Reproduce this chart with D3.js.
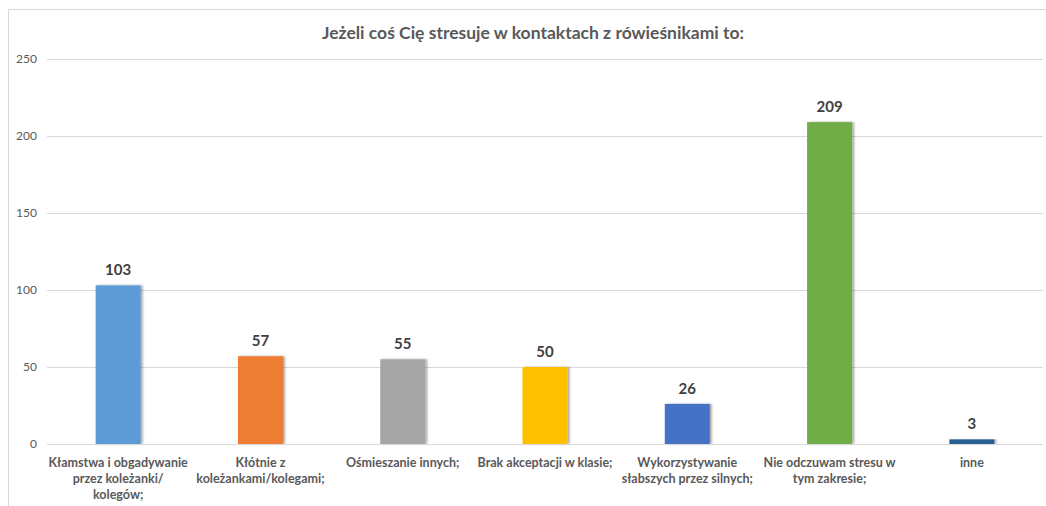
<!DOCTYPE html>
<html>
<head>
<meta charset="utf-8">
<script src="https://cdn.jsdelivr.net/npm/d3@7"></script>
<style>
  html, body { margin: 0; padding: 0; background: #fff; }
  svg { display: block; font-family: Lato, "Open Sans", sans-serif; }
</style>
</head>
<body>
<svg id="chart" width="1046" height="506"></svg>
<script>
// Answers to the survey question, one line of the label per "\n"
const categories = [
  "Kłamstwa i obgadywanie\nprzez koleżanki/\nkolegów;",
  "Kłótnie z\nkoleżankami/kolegami;",
  "Ośmieszanie innych;",
  "Brak akceptacji w klasie;",
  "Wykorzystywanie\nsłabszych przez silnych;",
  "Nie odczuwam stresu w\ntym zakresie;",
  "inne"
];
const values = [103, 57, 55, 50, 26, 209, 3];
const barColors = ["#5B9BD5", "#ED7D31", "#A5A5A5", "#FFC000", "#4472C4", "#70AD47", "#255E91"];
const yTicks = [0, 50, 100, 150, 200, 250];
const title = "Jeżeli coś Cię stresuje w kontaktach z rówieśnikami to:";

const svg = d3.select("#chart");
const W = 1046, H = 506;
const plot = { left: 47, right: 1043, top: 59, bottom: 444 };

// chart area frame
svg.append("rect")
  .attr("x", 8.5).attr("y", 9.5)
  .attr("width", W + 10).attr("height", H + 10)
  .attr("fill", "#fff").attr("stroke", "#D9D9D9").attr("stroke-width", 1);

const defs = svg.append("defs");
const f = defs.append("filter").attr("id", "barShadow")
  .attr("x", "-20%").attr("y", "-5%").attr("width", "150%").attr("height", "110%");
f.append("feDropShadow").attr("dx", 2).attr("dy", 0).attr("stdDeviation", 1.3)
  .attr("flood-color", "#000").attr("flood-opacity", 0.35);

const x = d3.scaleBand().domain(categories).range([plot.left, plot.right]).paddingInner(0).paddingOuter(0);
const y = d3.scaleLinear().domain([0, 250]).range([plot.bottom, plot.top]);

// gridlines and value axis labels
const yAxis = d3.axisLeft(y).tickValues(yTicks).tickSize(-(plot.right - plot.left)).tickPadding(10);
const gy = svg.append("g").attr("transform", `translate(${plot.left},0)`).call(yAxis);
gy.select(".domain").remove();
gy.selectAll(".tick line").attr("stroke", "#D9D9D9").attr("stroke-width", 1);
gy.selectAll(".tick text")
  .attr("fill", "#595959").attr("font-size", 12).attr("font-family", "Lato, sans-serif");

// bars
const barW = 45;
svg.append("g").selectAll("rect").data(values).join("rect")
  .attr("x", (d, i) => x(categories[i]) + x.bandwidth() / 2 - barW / 2)
  .attr("y", d => y(d))
  .attr("width", barW)
  .attr("height", d => y(0) - y(d))
  .attr("fill", (d, i) => barColors[i])
  .attr("filter", "url(#barShadow)");

// baseline drawn above the bars
svg.append("line")
  .attr("x1", plot.left).attr("x2", plot.right)
  .attr("y1", y(0) + 0.5).attr("y2", y(0) + 0.5)
  .attr("stroke", "#D9D9D9");

// value labels
svg.append("g").selectAll("text").data(values).join("text")
  .attr("x", (d, i) => x(categories[i]) + x.bandwidth() / 2)
  .attr("y", d => y(d) - 10)
  .attr("text-anchor", "middle")
  .attr("font-size", 15).attr("font-weight", "bold").attr("fill", "#404040")
  .text(d => d);

// category labels
const xAxis = d3.axisBottom(x).tickSize(0).tickFormat("");
const gx = svg.append("g").attr("transform", `translate(0,${plot.bottom})`).call(xAxis);
gx.select(".domain").remove();
gx.selectAll(".tick").each(function(d) {
  const t = d3.select(this).append("text")
    .attr("text-anchor", "middle")
    .attr("font-size", 12.5).attr("font-weight", "bold").attr("fill", "#595959")
    .attr("font-family", "Lato, sans-serif");
  d.split("\n").forEach((line, i) => {
    t.append("tspan").attr("x", 0).attr("y", 23 + i * 16).text(line);
  });
});

// title
svg.append("text")
  .attr("x", 533).attr("y", 39)
  .attr("text-anchor", "middle")
  .attr("font-size", 17.5).attr("font-weight", "bold").attr("fill", "#595959")
  .text(title);
</script>
</body>
</html>
